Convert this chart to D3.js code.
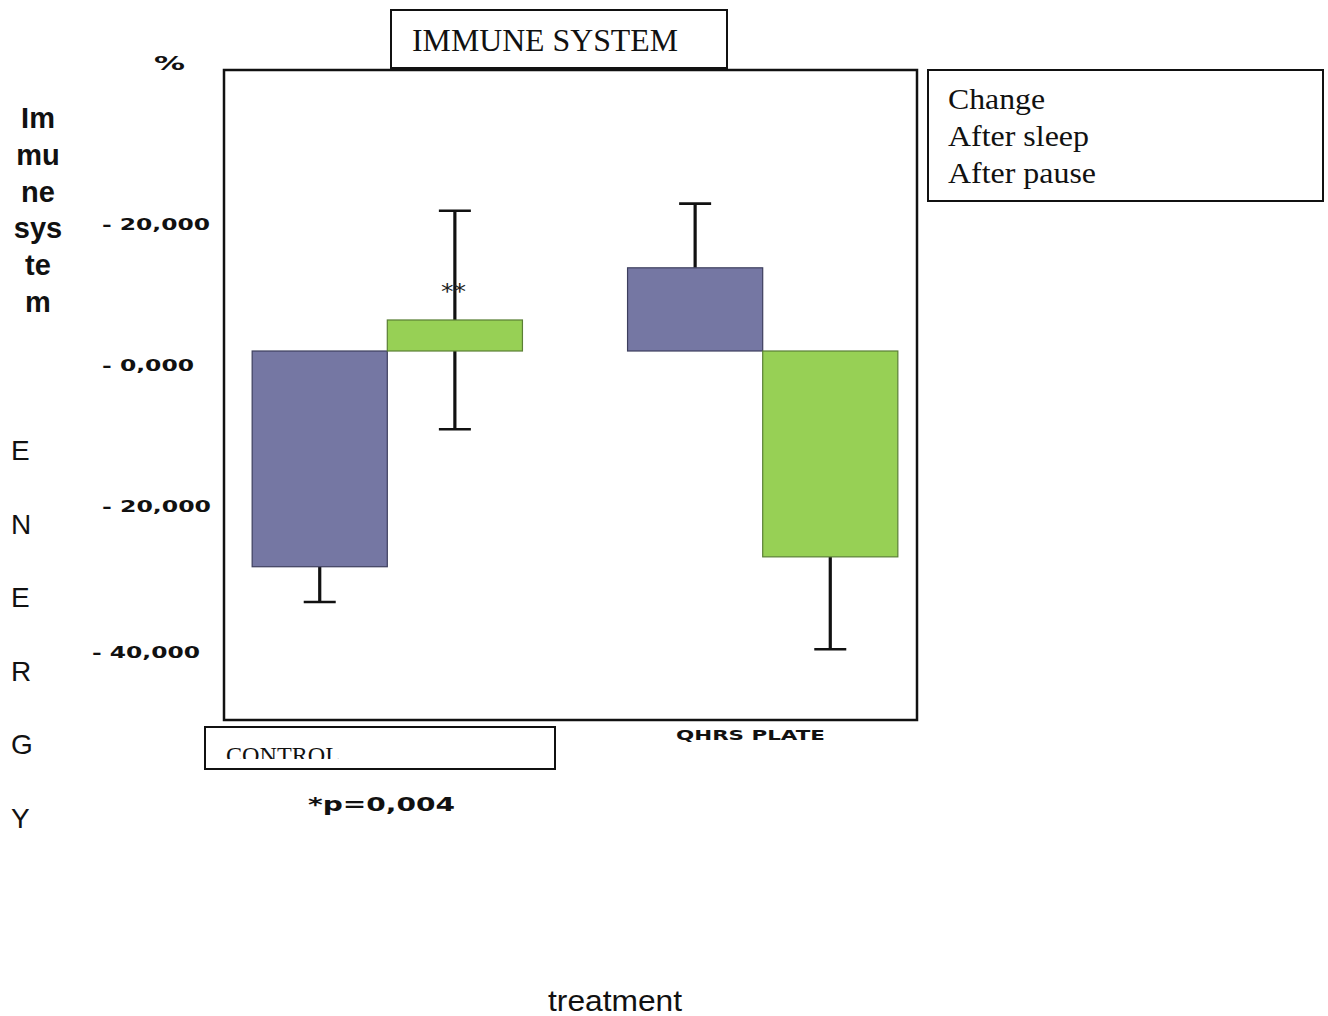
<!DOCTYPE html>
<html>
<head>
<meta charset="utf-8">
<script src="https://cdn.jsdelivr.net/npm/d3@7"></script>
<style>
  html, body { margin: 0; padding: 0; background: #fff; }
  svg { display: block; }
</style>
</head>
<body>
<svg id="chart" width="1328" height="1016"></svg>
<script>
// Treatment groups and series
const groups = ["CONTROL", "QHRS PLATE"];
const series = ["After sleep", "After pause"];
// Mean change (%) per group, per series
const afterSleep = [-30.6, 11.8];
const afterPause = [4.4, -29.2];
// Error bar extent (%)
const errSleep = [5.0, 9.1];
const errPause = [15.5, 13.1];
// Tick values and their printed labels
const tickValues = [20, 0, -20, -40];
const tickLabels = ["- 20,000", "- 0,000", "- 20,000", "- 40,000"];
const legendLines = ["Change", "After sleep", "After pause"];
const colors = ["#7577a3", "#97d055"];

const svg = d3.select("#chart");
const serif = "Liberation Serif, Times New Roman, serif";
const sans = "Liberation Sans, Arial, sans-serif";
const wideFont = "DejaVu Sans, Verdana, sans-serif";

const frame = { x0: 224, y0: 70, x1: 917, y1: 720 };

const y = d3.scaleLinear().domain([-40, 20]).range([633, 210]);
const x0 = d3.scaleBand().domain(groups).range([224, 926])
  .paddingInner(0.28).paddingOuter(0.075);
const x1 = d3.scaleBand().domain(series).range([0, x0.bandwidth()]);

// plot frame
svg.append("rect")
  .attr("x", frame.x0).attr("y", frame.y0)
  .attr("width", frame.x1 - frame.x0).attr("height", frame.y1 - frame.y0)
  .attr("fill", "none").attr("stroke", "#111").attr("stroke-width", 2.5);

// title box
svg.append("rect").attr("x", 391).attr("y", 10).attr("width", 336).attr("height", 58)
  .attr("fill", "#fff").attr("stroke", "#111").attr("stroke-width", 2);
svg.append("text").attr("x", 412).attr("y", 51)
  .attr("font-family", serif).attr("font-size", 31).attr("fill", "#111")
  .attr("textLength", 266).attr("lengthAdjust", "spacingAndGlyphs")
  .text("IMMUNE SYSTEM");

// legend box (text only)
const legendWidths = [97, 141, 148];
svg.append("rect").attr("x", 928).attr("y", 70).attr("width", 395).attr("height", 131)
  .attr("fill", "#fff").attr("stroke", "#111").attr("stroke-width", 2);
svg.append("g").selectAll("text").data(legendLines).join("text")
  .attr("x", 948).attr("y", (d, i) => 109 + i * 37)
  .attr("font-family", serif).attr("font-size", 30).attr("fill", "#111")
  .attr("textLength", (d, i) => legendWidths[i]).attr("lengthAdjust", "spacingAndGlyphs")
  .text(d => d);

// bar data
const rows = [];
groups.forEach((g, gi) => {
  rows.push({ g, s: series[0], v: afterSleep[gi], e: errSleep[gi], c: colors[0] });
  rows.push({ g, s: series[1], v: afterPause[gi], e: errPause[gi], c: colors[1] });
});

// error bars, drawn under the bars; control / after pause is two-sided
const errG = svg.append("g");
rows.forEach(r => {
  const cx = x0(r.g) + x1(r.s) + x1.bandwidth() / 2;
  const twoSided = r.g === "CONTROL" && r.s === "After pause";
  const end = r.v >= 0 ? r.v + r.e : r.v - r.e;
  const lo = twoSided ? r.v - r.e : Math.min(r.v, end);
  const hi = twoSided ? r.v + r.e : Math.max(r.v, end);
  errG.append("line").attr("x1", cx).attr("x2", cx)
    .attr("y1", y(hi)).attr("y2", y(lo))
    .attr("stroke", "#111").attr("stroke-width", 3.2);
  const caps = twoSided ? [hi, lo] : [end];
  caps.forEach(cv => {
    errG.append("line").attr("x1", cx - 16).attr("x2", cx + 16)
      .attr("y1", y(cv)).attr("y2", y(cv))
      .attr("stroke", "#111").attr("stroke-width", 2.6);
  });
});

// bars
svg.append("g").selectAll("rect").data(rows).join("rect")
  .attr("x", d => x0(d.g) + x1(d.s))
  .attr("width", x1.bandwidth())
  .attr("y", d => y(Math.max(0, d.v)))
  .attr("height", d => Math.abs(y(d.v) - y(0)))
  .attr("fill", d => d.c)
  .attr("stroke", d => d.c === colors[0] ? "#3d3f5e" : "#5a7f35")
  .attr("stroke-width", 1.2);

// significance mark
svg.append("text").attr("x", 441).attr("y", 299)
  .attr("font-family", wideFont).attr("font-size", 21).attr("fill", "#222")
  .attr("textLength", 25).attr("lengthAdjust", "spacingAndGlyphs").text("**");

// y tick labels
svg.append("g").selectAll("text").data(tickValues).join("text")
  .attr("x", (d, i) => i === 3 ? 92 : 102)
  .attr("y", d => y(d) + (d === -40 ? 25 : 20))
  .attr("font-family", wideFont).attr("font-weight", "bold")
  .attr("font-size", 16).attr("fill", "#111")
  .attr("textLength", (d, i) => [108, 92, 109, 108][i])
  .attr("lengthAdjust", "spacingAndGlyphs")
  .text((d, i) => tickLabels[i]);

svg.append("text").attr("x", 154).attr("y", 70)
  .attr("font-family", wideFont).attr("font-weight", "bold")
  .attr("font-size", 19).attr("fill", "#111")
  .attr("textLength", 31).attr("lengthAdjust", "spacingAndGlyphs").text("%");

// vertical axis titles
const immune = ["Im", "mu", "ne", "sys", "te", "m"];
svg.append("g").selectAll("text").data(immune).join("text")
  .attr("x", 38).attr("y", (d, i) => 128 + i * 36.8)
  .attr("text-anchor", "middle")
  .attr("font-family", sans).attr("font-weight", "bold")
  .attr("font-size", 29).attr("fill", "#111")
  .text(d => d);

const energy = "ENERGY".split("");
svg.append("g").selectAll("text").data(energy).join("text")
  .attr("x", 11).attr("y", (d, i) => 460 + i * 73.6)
  .attr("font-family", sans).attr("font-size", 28).attr("fill", "#111")
  .text(d => d);

// group labels
svg.append("defs").append("clipPath").attr("id", "ctrlClip")
  .append("rect").attr("x", 206).attr("y", 728).attr("width", 348).attr("height", 31);
svg.append("rect").attr("x", 205).attr("y", 727).attr("width", 350).attr("height", 42)
  .attr("fill", "#fff").attr("stroke", "#111").attr("stroke-width", 2);
svg.append("text").attr("x", 226).attr("y", 763)
  .attr("clip-path", "url(#ctrlClip)")
  .attr("font-family", serif).attr("font-size", 23).attr("fill", "#111")
  .attr("textLength", 114).attr("lengthAdjust", "spacingAndGlyphs")
  .text(groups[0]);

svg.append("text").attr("x", 676).attr("y", 740)
  .attr("font-family", wideFont).attr("font-weight", "bold")
  .attr("font-size", 14).attr("fill", "#111")
  .attr("textLength", 149).attr("lengthAdjust", "spacingAndGlyphs").text(groups[1]);

svg.append("text").attr("x", 308).attr("y", 811)
  .attr("font-family", wideFont).attr("font-weight", "bold")
  .attr("font-size", 20).attr("fill", "#111")
  .attr("textLength", 147).attr("lengthAdjust", "spacingAndGlyphs").text("*p=0,004");

svg.append("text").attr("x", 548).attr("y", 1011)
  .attr("font-family", sans).attr("font-size", 30).attr("fill", "#111")
  .attr("textLength", 134).attr("lengthAdjust", "spacingAndGlyphs")
  .text("treatment");
</script>
</body>
</html>
